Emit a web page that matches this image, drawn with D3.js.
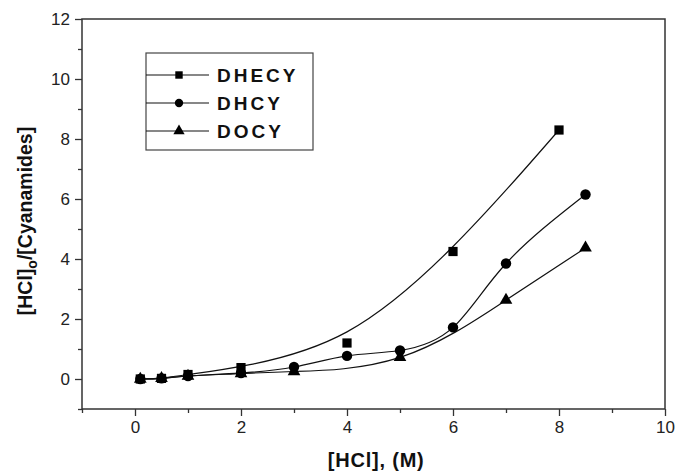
<!DOCTYPE html>
<html>
<head>
<meta charset="utf-8">
<script src="https://cdn.jsdelivr.net/npm/d3@7"></script>
<style>
	body { margin: 0; background: #fff; }
	text { font-family: "Liberation Sans", Arial, sans-serif; }
</style>
</head>
<body>
<div id="vis_container"></div>
<script>
// [HCl] concentration (M) for each series
var dhecyX = [0.1, 0.5, 1, 2, 4, 6, 8];
var dhecyY = [0, 0.02, 0.15, 0.38, 1.2, 4.25, 8.3];

var dhcyX = [0.1, 0.5, 1, 2, 3, 4, 5, 6, 7, 8.5];
var dhcyY = [0, 0.02, 0.1, 0.2, 0.4, 0.77, 0.95, 1.72, 3.85, 6.15];

var docyX = [0.1, 0.5, 1, 2, 3, 5, 7, 8.5];
var docyY = [0, 0.02, 0.1, 0.18, 0.25, 0.72, 2.63, 4.37];

var seriesNames = ["DHECY", "DHCY", "DOCY"];
var xTicks = [0, 2, 4, 6, 8, 10];
var yTicks = [0, 2, 4, 6, 8, 10, 12];

var chart = {};
chart.width = 678;
chart.height = 474;
chart.margin = {"top": 19, "left": 82, "right": 13, "bottom": 65};
chart.innerW = chart.width - chart.margin.left - chart.margin.right;
chart.innerH = chart.height - chart.margin.top - chart.margin.bottom;

chart.x = d3.scaleLinear().domain([-1, 10]).range([0, chart.innerW]);
chart.y = d3.scaleLinear().domain([-1, 12]).range([chart.innerH, 0]);

chart.svg = d3.select("#vis_container").append("svg")
	.attr("width", chart.width)
	.attr("height", chart.height)
		.append("g")
		.attr("transform", "translate(" + chart.margin.left + "," + chart.margin.top + ")");

function zip(xs, ys) {
	return xs.map(function(v, i) { return {x: v, y: ys[i]}; });
}

// DHECY is a smoothed trend (B-spline), the other two run through their points
chart.data = [
	{name: seriesNames[0], symbol: d3.symbolSquare, size: 85, curve: d3.curveBasis, pts: zip(dhecyX, dhecyY)},
	{name: seriesNames[1], symbol: d3.symbolCircle, size: 85, curve: d3.curveNatural, pts: zip(dhcyX, dhcyY)},
	{name: seriesNames[2], symbol: d3.symbolTriangle, size: 70, curve: d3.curveNatural, pts: zip(docyX, docyY)}
];

// frame
chart.svg.append("rect")
	.attr("x", 0).attr("y", 0)
	.attr("width", chart.innerW).attr("height", chart.innerH)
	.attr("fill", "none")
	.attr("stroke", "#333")
	.attr("stroke-width", 1.5);

// axes with minor ticks
function drawAxis(g, axisFn, scale, majors, minors) {
	var major = g.append("g").call(axisFn(scale).tickValues(majors).tickSize(7).tickPadding(5));
	var minor = g.append("g").call(axisFn(scale).tickValues(minors).tickSize(4).tickFormat(""));
	[major, minor].forEach(function(a) {
		a.select(".domain").remove();
		a.selectAll("line").attr("stroke", "#333").attr("stroke-width", 1.3);
	});
	major.selectAll("text")
		.attr("font-size", 17)
		.attr("fill", "#222")
		.style("font-family", "'Liberation Sans', Arial, sans-serif");
}

drawAxis(chart.svg.append("g").attr("transform", "translate(0," + chart.innerH + ")"),
	d3.axisBottom, chart.x, xTicks, [-1, 1, 3, 5, 7, 9]);
drawAxis(chart.svg.append("g"),
	d3.axisLeft, chart.y, yTicks, [-1, 1, 3, 5, 7, 9, 11]);

// curves
chart.data.forEach(function(s) {
	chart.svg.append("path")
		.attr("d", d3.line()
			.x(function(d) { return chart.x(d.x); })
			.y(function(d) { return chart.y(d.y); })
			.curve(s.curve)(s.pts))
		.attr("fill", "none").attr("stroke", "#111").attr("stroke-width", 1.2);
});

// markers
chart.data.slice().reverse().forEach(function(s) {
	chart.svg.selectAll(".m" + s.name)
		.data(s.pts)
		.enter()
		.append("path")
			.attr("class", "m" + s.name)
			.attr("transform", function(d) { return "translate(" + chart.x(d.x) + "," + chart.y(d.y) + ")"; })
			.attr("d", d3.symbol().type(s.symbol).size(s.size))
			.attr("fill", "#000");
});

// legend
chart.legend = chart.svg.append("g").attr("transform", "translate(64,34)");
chart.legend.append("rect")
	.attr("width", 167).attr("height", 97)
	.attr("fill", "#fff").attr("stroke", "#444").attr("stroke-width", 1.2);

chart.legend.selectAll(".entry")
	.data(chart.data)
	.enter()
	.append("g")
		.attr("class", "entry")
		.attr("transform", function(d, i) { return "translate(0," + (22 + i * 28) + ")"; })
		.each(function(d) {
			var g = d3.select(this);
			g.append("line")
				.attr("x1", 0).attr("x2", 63)
				.attr("stroke", "#111").attr("stroke-width", 1.2);
			g.append("path")
				.attr("transform", "translate(33,0)")
				.attr("d", d3.symbol().type(d.symbol).size(55))
				.attr("fill", "#000");
			g.append("text")
				.attr("x", 71).attr("y", 7)
				.attr("font-size", 19)
				.attr("font-weight", "bold")
				.attr("letter-spacing", 3)
				.attr("fill", "#111")
				.text(d.name);
		});

// axis titles
chart.svg.append("text")
	.attr("x", chart.x(4.55)).attr("y", chart.innerH + 58)
	.attr("text-anchor", "middle")
	.attr("font-size", 20).attr("font-weight", "bold").attr("fill", "#111")
	.attr("letter-spacing", 0.8)
	.text("[HCl], (M)");

chart.ytitle = chart.svg.append("text")
	.attr("transform", "translate(-50,202) rotate(-90)")
	.attr("text-anchor", "middle")
	.attr("font-size", 19.5).attr("font-weight", "bold").attr("fill", "#111");
chart.ytitle.append("tspan").text("[HCl]");
chart.ytitle.append("tspan").attr("font-size", 14).attr("dy", 5).text("o");
chart.ytitle.append("tspan").attr("dy", -5).text("/[Cyanamides]");
</script>
</body>
</html>
